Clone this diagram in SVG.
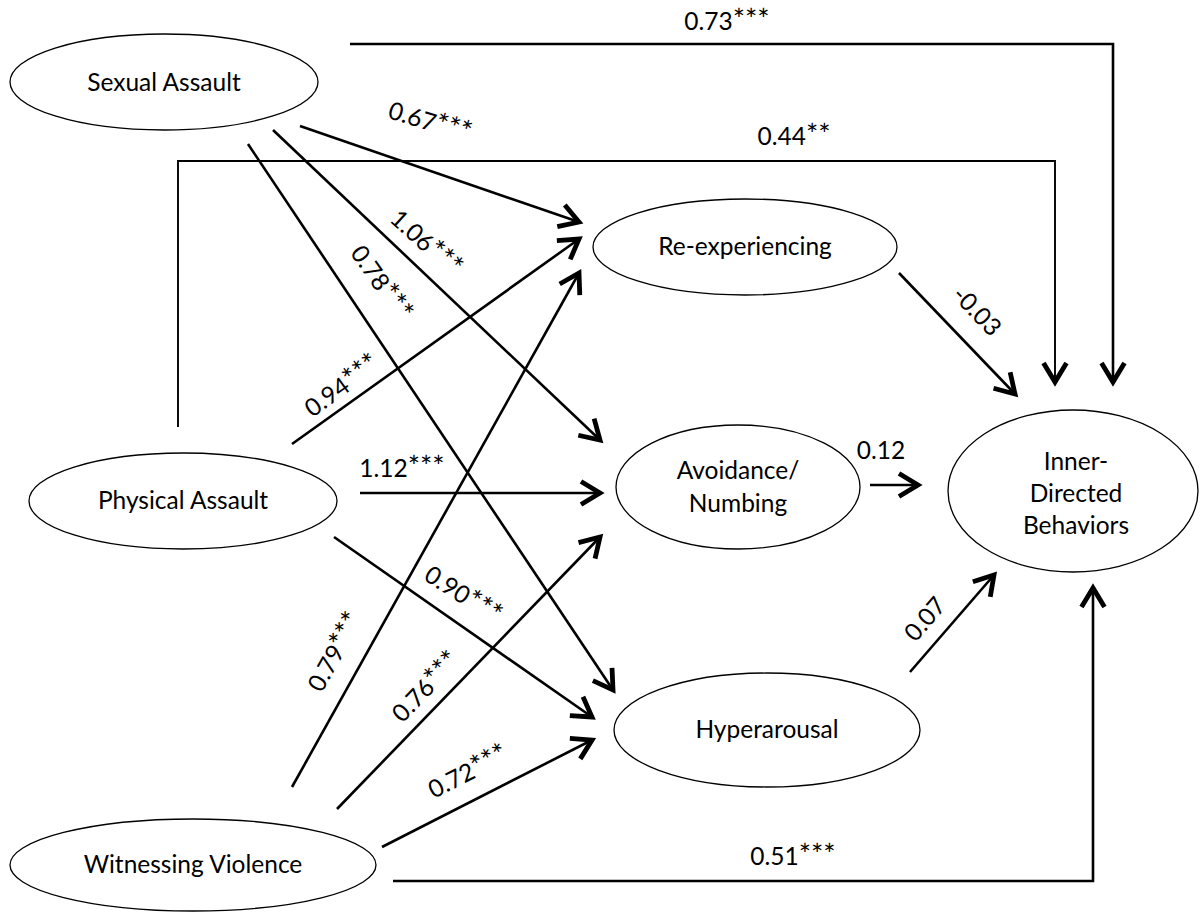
<svg xmlns="http://www.w3.org/2000/svg" width="1202" height="912" viewBox="0 0 1202 912">
<style>
.node ellipse{fill:#fff;stroke:#000;stroke-width:1.3}
.node text,.lbl{font-family:Lato,"Open Sans","Liberation Sans",sans-serif;font-size:24.5px;fill:#000;text-anchor:middle}
.s{font-size:29px}
.e{fill:none;stroke:#000;stroke-width:2.6;marker-end:url(#ah)}
.thin{stroke-width:1.9}
</style>
<defs>
<marker id="ah" markerUnits="userSpaceOnUse" markerWidth="40" markerHeight="40" viewBox="-30 -20 40 40" refX="0" refY="0" orient="auto" overflow="visible">
<path d="M-19,-11.5 L0,0 L-19,11.5" fill="none" stroke="#000" stroke-width="4.8"/>
</marker>
</defs>
<rect width="1202" height="912" fill="#fff"/>
<g id="connectors">
<polyline class="e" points="350,44 1113,44 1113,382"/>
<polyline class="e thin" points="178,427 178,161 1055,161 1055,382"/>
<line class="e" x1="300" y1="126" x2="579" y2="222"/>
<line class="e" x1="273" y1="130" x2="600" y2="440"/>
<line class="e" x1="248" y1="144" x2="613" y2="690"/>
<line class="e" x1="292" y1="444" x2="579" y2="239"/>
<line class="e" x1="360" y1="493" x2="600" y2="493"/>
<line class="e" x1="334" y1="537" x2="592" y2="717"/>
<line class="e" x1="292" y1="787" x2="579" y2="273"/>
<line class="e" x1="337" y1="809" x2="600" y2="537"/>
<line class="e" x1="382" y1="847" x2="592" y2="740"/>
<polyline class="e" points="393,881 1093,881 1093,588"/>
<line class="e" x1="899" y1="273" x2="1015" y2="394"/>
<line class="e" x1="870" y1="485" x2="918" y2="485"/>
<line class="e" x1="910" y1="672" x2="994" y2="575"/>
<text class="lbl" x="727" y="30">0.73<tspan class="s">***</tspan></text>
<text class="lbl" x="794" y="145">0.44<tspan class="s">**</tspan></text>
<text class="lbl" transform="translate(430,122) rotate(17)" dy="0.35em">0.67<tspan class="s">***</tspan></text>
<text class="lbl" transform="translate(426,243) rotate(42)" dy="0.35em">1.06<tspan class="s">***</tspan></text>
<text class="lbl" transform="translate(381,283) rotate(55)" dy="0.35em">0.78<tspan class="s">***</tspan></text>
<text class="lbl" transform="translate(342,386) rotate(-36)" dy="0.35em">0.94<tspan class="s">***</tspan></text>
<text class="lbl" x="402" y="477">1.12<tspan class="s">***</tspan></text>
<text class="lbl" transform="translate(463,595) rotate(33)" dy="0.35em">0.90<tspan class="s">***</tspan></text>
<text class="lbl" transform="translate(335,652) rotate(-61)" dy="0.35em">0.79<tspan class="s">***</tspan></text>
<text class="lbl" transform="translate(426,687) rotate(-46)" dy="0.35em">0.76<tspan class="s">***</tspan></text>
<text class="lbl" transform="translate(468,772) rotate(-27)" dy="0.35em">0.72<tspan class="s">***</tspan></text>
<text class="lbl" x="793" y="865">0.51<tspan class="s">***</tspan></text>
<text class="lbl" transform="translate(977,311) rotate(46)" dy="0.35em">-0.03</text>
<text class="lbl" x="881" y="459">0.12</text>
<text class="lbl" transform="translate(925,619) rotate(-49)" dy="0.35em">0.07</text>
</g>
<g id="sexual-assault" class="node"><ellipse cx="164" cy="82" rx="154" ry="48"/><text x="164" y="90.5">Sexual Assault</text></g>
<g id="physical-assault" class="node"><ellipse cx="183" cy="501" rx="154" ry="48"/><text x="183" y="508.5">Physical Assault</text></g>
<g id="witnessing-violence" class="node"><ellipse cx="193" cy="865" rx="183" ry="46"/><text x="193" y="872.5">Witnessing Violence</text></g>
<g id="re-experiencing" class="node"><ellipse cx="745" cy="247" rx="152" ry="48"/><text x="745" y="254.5">Re-experiencing</text></g>
<g id="avoidance-numbing" class="node"><ellipse cx="738" cy="487" rx="122" ry="62"/><text x="738" y="479">Avoidance/</text><text x="738" y="512">Numbing</text></g>
<g id="inner-directed-behaviors" class="node"><ellipse cx="1073" cy="491" rx="125" ry="81"/><text x="1076" y="470">Inner-</text><text x="1076" y="502">Directed</text><text x="1076" y="534">Behaviors</text></g>
<g id="hyperarousal" class="node"><ellipse cx="767" cy="730" rx="153" ry="57"/><text x="767" y="737.5">Hyperarousal</text></g>
</svg>
